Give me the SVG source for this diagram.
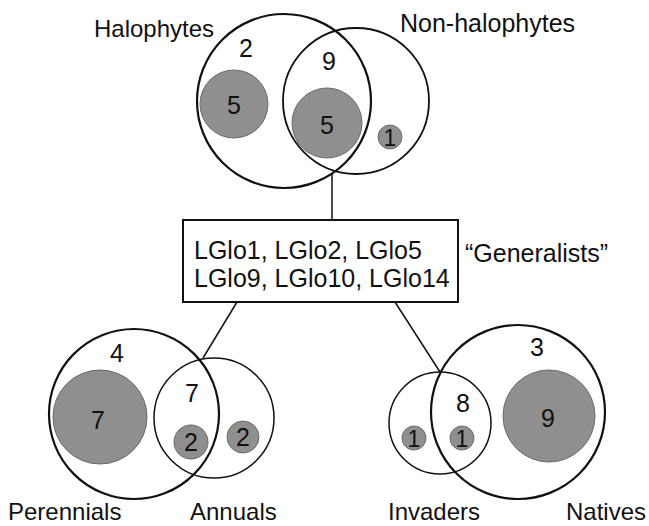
<svg xmlns="http://www.w3.org/2000/svg" width="649" height="526" viewBox="0 0 649 526">
<style>
text{font-family:"Liberation Sans",Arial,sans-serif;font-size:25px;fill:#111}
.n{text-anchor:middle}
.lbl{font-size:24px}
.big{fill:none;stroke:#111;stroke-width:2.2}
.thin{fill:none;stroke:#111;stroke-width:1.5}
.g{fill:#8f8f8f;stroke:#6a6a6a;stroke-width:1}
.c{stroke:#111;stroke-width:1.5;fill:none}
</style>
<rect width="649" height="526" fill="#fff"/>
<g id="connectors">
<line class="c" x1="332" y1="174" x2="332" y2="220"/>
<line class="c" x1="237" y1="302" x2="203" y2="358"/>
<line class="c" x1="395" y1="302" x2="440" y2="372"/>
</g>
<g id="top-venn">
<circle class="g" cx="234" cy="104" r="34"/>
<circle class="g" cx="327" cy="123" r="35"/>
<circle class="g" cx="390" cy="137" r="12"/>
<circle class="big" cx="284" cy="101" r="87"/>
<circle class="big" cx="356" cy="101" r="73" style="stroke-width:1.8"/>
<text class="n" x="246" y="57">2</text>
<text class="n" x="329" y="70">9</text>
<text class="n" x="234" y="114">5</text>
<text class="n" x="327" y="134">5</text>
<text class="n" x="390" y="146" style="font-size:23px">1</text>
<text class="lbl" x="94" y="37">Halophytes</text>
<text x="400" y="32">Non-halophytes</text>
</g>
<g id="generalists">
<rect x="183" y="220" width="275" height="82" fill="#fff" stroke="#111" stroke-width="2"/>
<text x="194" y="259">LGlo1, LGlo2, LGlo5</text>
<text x="194" y="287">LGlo9, LGlo10, LGlo14</text>
<text x="465" y="262">“Generalists”</text>
</g>
<g id="left-venn">
<circle class="g" cx="100" cy="417" r="47"/>
<circle class="g" cx="191" cy="442" r="17"/>
<circle class="g" cx="243" cy="437" r="16"/>
<circle class="big" cx="134" cy="414" r="85"/>
<circle class="thin" cx="214" cy="418" r="60"/>
<text class="n" x="117" y="362">4</text>
<text class="n" x="98" y="429">7</text>
<text class="n" x="192" y="402">7</text>
<text class="n" x="191" y="451">2</text>
<text class="n" x="243" y="446">2</text>
<text class="lbl" x="8" y="520">Perennials</text>
<text class="lbl" x="190" y="520">Annuals</text>
</g>
<g id="right-venn">
<circle class="g" cx="549" cy="416" r="46"/>
<circle class="g" cx="414" cy="438" r="12"/>
<circle class="g" cx="462" cy="438" r="12"/>
<circle class="big" cx="518" cy="412" r="87"/>
<circle class="thin" cx="440" cy="423" r="51"/>
<text class="n" x="537" y="356">3</text>
<text class="n" x="463" y="412">8</text>
<text class="n" x="548" y="427">9</text>
<text class="n" x="414" y="447" style="font-size:23px">1</text>
<text class="n" x="462" y="447" style="font-size:23px">1</text>
<text class="lbl" x="388" y="520">Invaders</text>
<text class="lbl" x="566" y="520">Natives</text>
</g>
</svg>
